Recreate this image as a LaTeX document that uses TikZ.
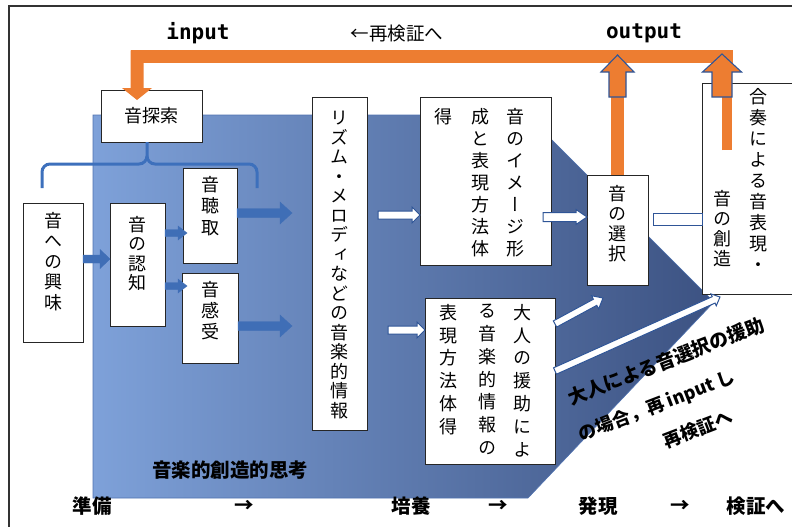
\documentclass[tikz,border=0pt]{standalone}
\usepackage{fontspec}
\usetikzlibrary{calc}
\newfontfamily\jp{Noto Sans CJK JP}
\newfontfamily\jpv{Noto Sans CJK JP}[RawFeature=+vert]
\newfontfamily\monob{DejaVu Sans Mono}
\definecolor{org}{HTML}{ED7D31}
\definecolor{hblue}{HTML}{2F5597}
\definecolor{bblue}{HTML}{3F6EB6}
\definecolor{shL}{HTML}{7EA1D9}
\definecolor{shR}{HTML}{3C5282}
\definecolor{brc}{HTML}{3D70BC}
\definecolor{edgeblue}{HTML}{4F72B0}
% block arrow: style, from, to, half shaft, half head, head length
\newcommand\blockarrow[6]{%
  \coordinate (baA) at (#2);
  \coordinate (baB) at (#3);
  \coordinate (baH) at ($(baB)!#6pt!(baA)$);
  \draw[#1] ($(baA)!#4pt!90:(baB)$) -- ($(baH)!#4pt!-90:(baA)$) -- ($(baH)!#5pt!-90:(baA)$) -- (baB) -- ($(baH)!#5pt!90:(baA)$) -- ($(baH)!#4pt!90:(baA)$) -- ($(baA)!#4pt!-90:(baB)$) -- cycle;
}
\begin{document}
\begin{tikzpicture}[x=1pt,y=-1pt,
  box/.style={draw=black!85, fill=white, line width=0.9pt, inner sep=0pt, outer sep=0pt},
  vt/.style={font=\jpv\fontsize{18}{#1}\selectfont, align=center, inner sep=0pt, anchor=north},
  vt/.default=20.5,
  bluearr/.style={fill=bblue, draw=bblue, line width=0.4pt},
  holarr/.style={fill=white, draw=hblue, line width=1pt},
  orgarr/.style={fill=org, draw=hblue, line width=1.1pt},
  orgfill/.style={fill=org, draw=none},
  btxt/.style={font=\jp\bfseries\fontsize{19.5}{22}\selectfont, inner sep=0pt},
  brace/.style={draw=brc, line width=3pt}
]
\useasboundingbox (0,0) rectangle (792,527);
% frame
\draw[black!80, line width=1.4pt] (9,540) -- (9,6) -- (800,6);
% gradient region
\shade[left color=shL, right color=shR, draw=edgeblue, line width=0.6pt]
  (93,115) -- (527,115) -- (714,302) -- (528,498) -- (93,498) -- cycle;

% boxes
\node[box, minimum width=101pt, minimum height=52pt, font=\jp\fontsize{18}{20}\selectfont] (sagasaku) at (151.5,116) {音探索};
\node[box, minimum width=60pt, minimum height=139pt] (kyomi) at (53,272.5) {};
\node[box, minimum width=55pt, minimum height=123pt] (ninchi) at (137.5,264.5) {};
\node[box, minimum width=54pt, minimum height=95pt] (choshu) at (210,215.5) {};
\node[box, minimum width=56pt, minimum height=90pt] (kanju) at (210,318) {};
\node[box, minimum width=55pt, minimum height=333pt] (rizumu) at (339.5,263.5) {};
\node[box, minimum width=131pt, minimum height=168pt] (image) at (485.5,181) {};
\node[box, minimum width=61pt, minimum height=110pt] (sentaku) at (617.5,230) {};
\node[box, minimum width=98pt, minimum height=211pt] (gassou) at (751,188.5) {};
\node[box, minimum width=130pt, minimum height=166pt] (otona) at (490,381) {};

% brace
\draw[brace] (42,188) -- (42,172) to[out=90,in=180] (50,164) -- (139,164) to[out=0,in=-90] (147,156) -- (sagasaku.south -| 147,0);
\draw[brace] (147,156) to[out=-90,in=180] (155,164) -- (249,164) to[out=0,in=90] (257,172) -- (257,188);

% vertical texts
\node[vt=20.5] (tkyomi) at (53,212) {音\\へ\\の\\興\\味};
\node[vt=19.5] (tninchi) at (137.5,216) {音\\の\\認\\知};
\node[vt=21.5] (tchoshu) at (210,176) {音\\聴\\取};
\node[vt=21] (tkanju) at (210,281) {音\\感\\受};
\node[vt=19.5] (trizumu) at (339.5,111) {リ\\ズ\\ム\\・\\メ\\ロ\\デ\\ィ\\な\\ど\\の\\音\\楽\\的\\情\\報};
\node[vt=22] (timg1) at (515,108) {音\\の\\イ\\メ\\ー\\ジ\\形};
\node[vt=22] (timg2) at (480,108) {成\\と\\表\\現\\方\\法\\体};
\node[vt=22] (timg3) at (443,108) {得};
\node[vt=20] (tsentaku) at (617,185) {音\\の\\選\\択};
\node[vt=21] (tgas1) at (758,88) {合\\奏\\に\\よ\\る\\音\\表\\現\\・};
\node[vt=20] (tgas2) at (722,190) {音\\の\\創\\造};
\node[vt=22.8] (toto1) at (522,304) {大\\人\\の\\援\\助\\に\\よ};
\node[vt=22.8] (toto2) at (487,304) {る\\音\\楽\\的\\情\\報\\の};
\node[vt=22.8] (toto3) at (448,304) {表\\現\\方\\法\\体\\得};

% blue arrows
\blockarrow{bluearr}{kyomi.east |- 0,259}{ninchi.west |- 0,259}{4}{9.5}{10}
\blockarrow{bluearr}{ninchi.east |- 0,233}{$(choshu.west |- 0,233)+(4,0)$}{3.5}{7}{9}
\blockarrow{bluearr}{ninchi.east |- 0,286}{$(kanju.west |- 0,286)+(5,0)$}{3.5}{7}{9}
\coordinate (e1) at (292,213);
\coordinate (e2) at (292,326);
\blockarrow{bluearr}{choshu.east |- 0,213}{e1}{4.5}{11}{12}
\blockarrow{bluearr}{kanju.east |- 0,326}{e2}{4.5}{11}{12}

% white arrows
\blockarrow{holarr}{$(rizumu.east |- 0,215)+(11,0)$}{image.west |- 0,215}{4}{8}{8}
\blockarrow{holarr}{$(rizumu.east |- 0,330)+(21,0)$}{otona.west |- 0,330}{4}{8}{8}
\blockarrow{holarr}{$(image.east |- 0,217)+(-8,0)$}{sentaku.west |- 0,217}{4.5}{7.5}{11}
\draw[holarr] ($(sentaku.east)+(5,-17)$) rectangle (gassou.west |- 0,225);
\coordinate (d1) at (603,298);
\coordinate (d2) at (720,297);
\blockarrow{holarr}{otona.east |- 0,324}{d1}{3.5}{7.5}{9}
\blockarrow{holarr}{otona.east |- 0,371}{d2}{3.5}{6.5}{7}

% orange feedback arrows
\coordinate (fbR) at (733,57);
\coordinate (intip) at ($(sagasaku.north west)+(36,10)$);
\fill[org] (130.5,50.5) rectangle (fbR |- 0,63.5);
\blockarrow{orgfill}{137,50.5}{intip}{6.5}{15}{12}
\coordinate (outA) at ($(sentaku.north)+(0,-78)$);
\draw[org, line width=13pt] (sentaku.north) -- (outA);
\blockarrow{orgarr}{outA}{$(outA)+(0,-42)$}{8.5}{16.5}{17}
\coordinate (gbar) at (727,150);
\draw[org, line width=10pt] (gbar) -- (727,97);
\blockarrow{orgarr}{722,97}{722,54}{10}{19.5}{18}

% titles
\node[font=\monob\bfseries\fontsize{21}{24}\selectfont, inner sep=0pt] (tin) at (198,33) {input};
\node[font=\jp\fontsize{18.5}{22}\selectfont, inner sep=0pt] (tre) at (397,34) {←再検証へ};
\node[font=\monob\bfseries\fontsize{21}{24}\selectfont, inner sep=0pt] (tout) at (644,33) {output};

% diagonal notes
\node[btxt, font=\jp\bfseries\fontsize{19}{22}\selectfont, rotate=21] (n1) at (666,361) {大人による音選択の援助};
\node[btxt, font=\jp\bfseries\fontsize{18}{22}\selectfont, rotate=21] (n2) at (657,406) {の場合，再 input し};
\node[btxt, font=\jp\bfseries\fontsize{18}{22}\selectfont, rotate=21] (n3) at (698,429) {再検証へ};

% bottom labels
\node[btxt] (shiko) at (230,470) {音楽的創造的思考};
\node[btxt] (b1) at (92,506) {準備};
\node[btxt] (a1) at (244,506) {→};
\node[btxt] (b2) at (411,506) {培養};
\node[btxt] (a2) at (498,506) {→};
\node[btxt] (b3) at (598,506) {発現};
\node[btxt] (a3) at (680,506) {→};
\node[btxt] (b4) at (756,506) {検証へ};
\end{tikzpicture}
\end{document}
